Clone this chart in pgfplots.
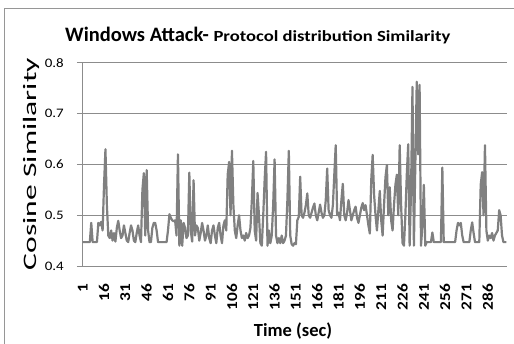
\documentclass[border=0pt]{standalone}
\usepackage{fontspec}
\setmainfont{Carlito}
\usepackage{graphicx}
\usepackage{pgfplots}
\usepackage{pgfplotstable}
\pgfplotsset{compat=1.18}

\definecolor{linegray}{RGB}{128,128,128}
\definecolor{gridgray}{RGB}{140,140,140}
\definecolor{framegray}{RGB}{150,150,150}

% cosine similarity of the protocol distribution, one value per second (t = 1..299)
\pgfplotstableread[row sep=\\]{
v\\
0.447\\ 0.447\\ 0.447\\ 0.447\\ 0.447\\ 0.447\\ 0.485\\ 0.447\\ 0.447\\ 0.447\\
0.447\\ 0.485\\ 0.480\\ 0.487\\ 0.470\\ 0.560\\ 0.630\\ 0.520\\ 0.460\\ 0.455\\
0.470\\ 0.450\\ 0.465\\ 0.448\\ 0.475\\ 0.489\\ 0.470\\ 0.455\\ 0.460\\ 0.480\\
0.465\\ 0.450\\ 0.447\\ 0.465\\ 0.480\\ 0.470\\ 0.450\\ 0.447\\ 0.465\\ 0.480\\
0.460\\ 0.447\\ 0.550\\ 0.583\\ 0.460\\ 0.589\\ 0.470\\ 0.447\\ 0.447\\ 0.475\\
0.485\\ 0.485\\ 0.470\\ 0.447\\ 0.447\\ 0.447\\ 0.447\\ 0.447\\ 0.447\\ 0.447\\
0.470\\ 0.502\\ 0.495\\ 0.490\\ 0.488\\ 0.490\\ 0.460\\ 0.620\\ 0.440\\ 0.490\\
0.440\\ 0.485\\ 0.475\\ 0.455\\ 0.460\\ 0.584\\ 0.470\\ 0.448\\ 0.569\\ 0.460\\
0.480\\ 0.475\\ 0.450\\ 0.465\\ 0.485\\ 0.470\\ 0.450\\ 0.460\\ 0.480\\ 0.455\\
0.445\\ 0.470\\ 0.480\\ 0.460\\ 0.445\\ 0.475\\ 0.485\\ 0.460\\ 0.445\\ 0.480\\
0.490\\ 0.470\\ 0.580\\ 0.605\\ 0.500\\ 0.627\\ 0.520\\ 0.470\\ 0.455\\ 0.480\\
0.500\\ 0.470\\ 0.455\\ 0.460\\ 0.450\\ 0.465\\ 0.455\\ 0.460\\ 0.475\\ 0.530\\
0.607\\ 0.470\\ 0.450\\ 0.544\\ 0.500\\ 0.445\\ 0.440\\ 0.500\\ 0.570\\ 0.625\\
0.440\\ 0.470\\ 0.445\\ 0.460\\ 0.520\\ 0.610\\ 0.460\\ 0.445\\ 0.455\\ 0.445\\
0.460\\ 0.445\\ 0.450\\ 0.460\\ 0.530\\ 0.627\\ 0.460\\ 0.443\\ 0.440\\ 0.445\\
0.443\\ 0.490\\ 0.497\\ 0.576\\ 0.500\\ 0.495\\ 0.505\\ 0.520\\ 0.543\\ 0.500\\
0.495\\ 0.505\\ 0.515\\ 0.523\\ 0.500\\ 0.490\\ 0.505\\ 0.521\\ 0.505\\ 0.495\\
0.500\\ 0.530\\ 0.592\\ 0.510\\ 0.500\\ 0.495\\ 0.520\\ 0.580\\ 0.638\\ 0.500\\
0.505\\ 0.490\\ 0.530\\ 0.562\\ 0.500\\ 0.490\\ 0.505\\ 0.530\\ 0.510\\ 0.490\\
0.500\\ 0.510\\ 0.517\\ 0.495\\ 0.485\\ 0.500\\ 0.515\\ 0.524\\ 0.510\\ 0.520\\
0.500\\ 0.480\\ 0.464\\ 0.570\\ 0.619\\ 0.540\\ 0.500\\ 0.470\\ 0.510\\ 0.548\\
0.490\\ 0.460\\ 0.520\\ 0.575\\ 0.599\\ 0.500\\ 0.555\\ 0.490\\ 0.470\\ 0.520\\
0.560\\ 0.580\\ 0.500\\ 0.638\\ 0.520\\ 0.445\\ 0.440\\ 0.500\\ 0.580\\ 0.640\\
0.440\\ 0.550\\ 0.753\\ 0.440\\ 0.600\\ 0.763\\ 0.620\\ 0.757\\ 0.440\\ 0.480\\
0.560\\ 0.440\\ 0.447\\ 0.447\\ 0.447\\ 0.447\\ 0.466\\ 0.447\\ 0.447\\ 0.447\\
0.447\\ 0.447\\ 0.447\\ 0.594\\ 0.447\\ 0.447\\ 0.447\\ 0.447\\ 0.447\\ 0.447\\
0.447\\ 0.447\\ 0.447\\ 0.470\\ 0.485\\ 0.480\\ 0.485\\ 0.460\\ 0.447\\ 0.447\\
0.447\\ 0.447\\ 0.447\\ 0.470\\ 0.486\\ 0.465\\ 0.447\\ 0.447\\ 0.447\\ 0.447\\
0.560\\ 0.585\\ 0.500\\ 0.638\\ 0.470\\ 0.450\\ 0.460\\ 0.455\\ 0.465\\ 0.450\\
0.460\\ 0.465\\ 0.470\\ 0.510\\ 0.500\\ 0.460\\ 0.447\\ 0.447\\ 0.447\\
}\simdata

\begin{document}
\begin{tikzpicture}
\path[use as bounding box] (0bp,0bp) rectangle (514bp,344bp);
% chart frame
\draw[framegray, line width=0.8bp] (4.5bp,0bp) -- (4.5bp,336bp) -- (514bp,336bp);

\begin{axis}[
  at={(82bp,78bp)}, anchor=south west,
  scale only axis, width=425bp, height=203bp,
  xmin=0.5, xmax=299.5, ymin=0.4, ymax=0.8,
  xtick={1,16,...,286},
  ytick={0.4,0.5,0.6,0.7,0.8},
  axis x line=bottom, axis y line=left,
  axis line style={gridgray, line width=1bp, -},
  ymajorgrids, grid style={gridgray, line width=1bp},
  xtick style={draw=none},
  ytick style={gridgray, line width=1bp},
  tick align=outside, major tick length=5bp,
  /pgf/number format/assume math mode=true,
  yticklabel={\scalebox{1.15}[1]{\pgfmathprintnumber[fixed,fixed zerofill,precision=1]{\tick}}},
  yticklabel style={font=\fontsize{13bp}{13bp}\selectfont, inner sep=0pt, xshift=-13bp},
  xticklabel={\scalebox{1.15}[1]{\bfseries\pgfmathprintnumber[int detect]{\tick}}},
  % rotated labels: a negative xshift moves them down the page
  xticklabel style={rotate=90, anchor=east, font=\fontsize{15bp}{15bp}\selectfont, inner sep=0pt, xshift=-13bp},
  clip=false,
]
\addplot[linegray, line width=2.2bp, line join=round, mark=none]
  table[x expr=\coordindex+1, y=v] {\simdata};
\end{axis}

% titles and axis labels
\node[anchor=base west, inner sep=0pt] at (65bp,302bp)
  {\fontsize{20.5bp}{20.5bp}\selectfont\bfseries Windows Attack- \scalebox{1.2}[1]{\fontsize{15.5bp}{15.5bp}\selectfont Protocol distribution Similarity}};
\node[rotate=90, inner sep=0pt] at (31bp,180bp)
  {\scalebox{1.66}[1]{\fontsize{19bp}{19bp}\selectfont Cosine Similarity}};
\node[anchor=base, inner sep=0pt] at (293bp,8bp)
  {\fontsize{18.5bp}{18.5bp}\selectfont\bfseries Time (sec)};
\end{tikzpicture}
\end{document}
